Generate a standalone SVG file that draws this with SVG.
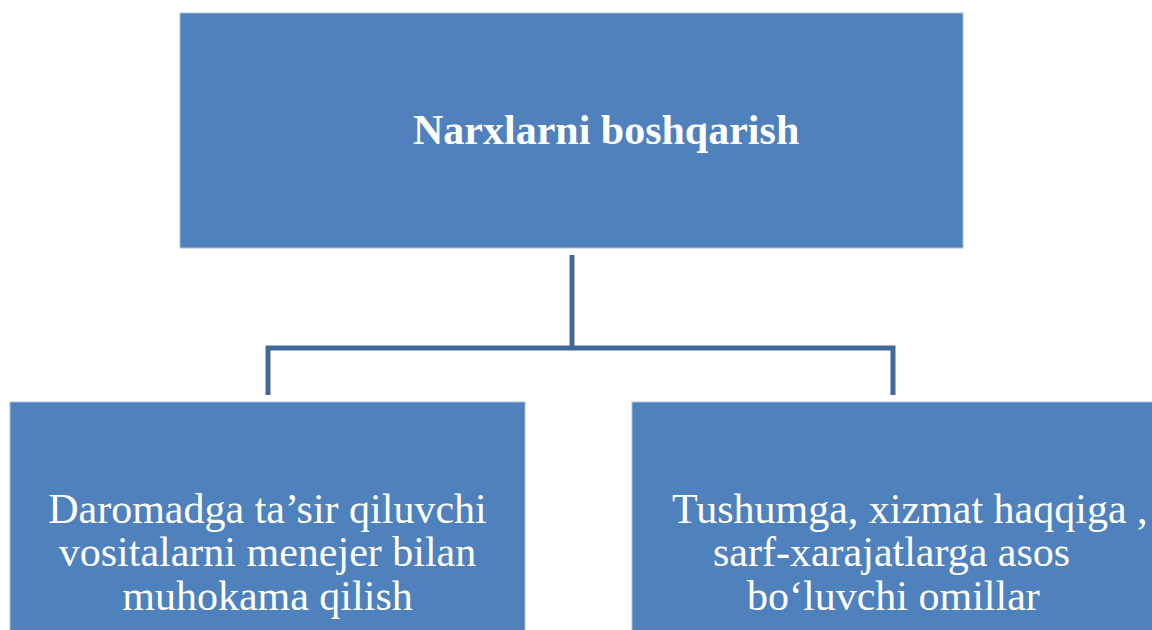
<svg xmlns="http://www.w3.org/2000/svg" width="1152" height="630" viewBox="0 0 1152 630">
<style>
.box{fill:#4F81BD;stroke:#A9C1E0;stroke-width:1}
.t{font-family:"Liberation Serif","Times New Roman",serif;font-size:42px;fill:#FFFFFF}
.b{font-weight:bold}
.conn{fill:none;stroke:#40689A;stroke-width:5;stroke-linejoin:miter}
</style>
<rect x="0" y="0" width="1152" height="630" fill="#FFFFFF"/>
<g id="connectors">
<path class="conn" d="M572 255 V348"/>
<path class="conn" d="M268 395 V348 H893 V395"/>
</g>
<g id="node-top">
<rect class="box" x="180" y="13" width="783" height="235"/>
<text class="t b" x="413" y="144">Narxlarni boshqarish</text>
</g>
<g id="node-left">
<rect class="box" x="10" y="402" width="515" height="240"/>
<text class="t" x="267.5" y="522.5" text-anchor="middle">Daromadga ta’sir qiluvchi</text>
<text class="t" x="267.5" y="566" text-anchor="middle">vositalarni menejer bilan</text>
<text class="t" x="267.5" y="609.5" text-anchor="middle">muhokama qilish</text>
</g>
<g id="node-right">
<rect class="box" x="632" y="402" width="530" height="240"/>
<text class="t" x="672" y="522.5">Tushumga, xizmat haqqiga ,</text>
<text class="t" x="713" y="566">sarf-xarajatlarga asos</text>
<text class="t" x="747" y="609.5">bo‘luvchi omillar</text>
</g>
</svg>
